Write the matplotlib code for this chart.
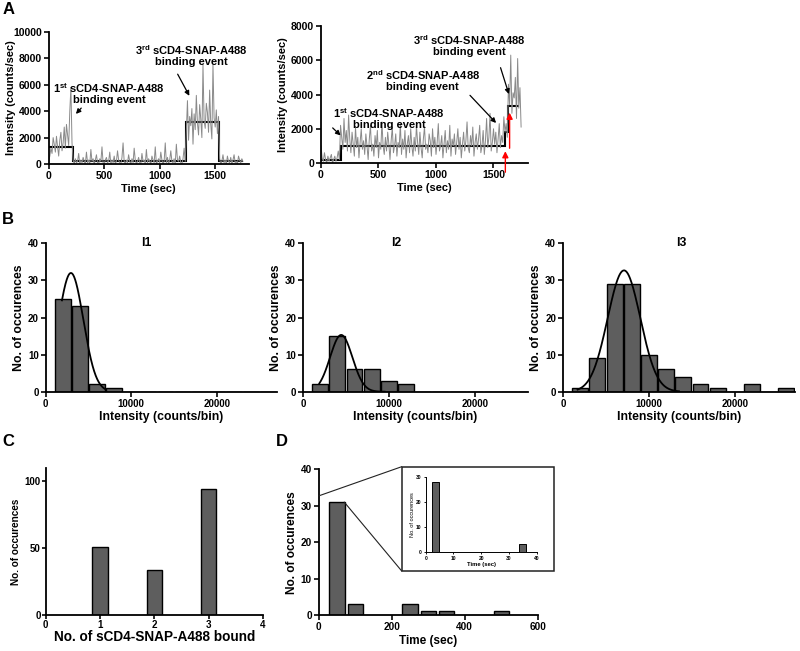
import numpy as np
import matplotlib.pyplot as plt
from matplotlib.patches import Rectangle, ConnectionPatch

plt.rcParams['font.family'] = ['Liberation Sans', 'DejaVu Sans']
plt.rcParams['font.weight'] = 'bold'
plt.rcParams['mathtext.fontset'] = 'custom'
plt.rcParams['mathtext.bf'] = 'Liberation Sans:bold'
plt.rcParams['mathtext.rm'] = 'Liberation Sans:bold'

# ---- panel A, left trace (10 s per point, 0..1750 s)
trace1 = [200, 600, 1200, 800, 2000, 1500, 900, 2100, 1300, 600, 1800, 2400, 1000, 1600, 2800, 1200,
          3000, 2200, 1400, 4000, 5800, 1600,
          300, 0, 400, 100, 200, 800, 0, 300, 100, 500,
          200, 0, 900, 100, 300, 0, 1100, 200, 400, 0,
          300, 700, 100, 0, 400, 200, 1300, 100, 0, 300,
          500, 100, 200, 900, 0, 300, 100, 600, 0, 200,
          1000, 300, 100, 0, 500, 1600, 200, 0, 300, 100,
          700, 200, 0, 400, 100, 1200, 300, 0, 200, 500,
          100, 0, 800, 200, 300, 0, 1100, 100, 400, 200,
          0, 600, 300, 100, 1300, 0, 200, 400, 100, 900,
          300, 0, 200, 1600, 100, 500, 0, 300, 1000, 200,
          100, 400, 0, 1500, 300, 200, 600, 100, 0, 400,
          1200, 200,
          2500, 4800, 1800, 3600, 2900, 4200, 1500, 3800, 2600, 5200,
          3100, 2200, 4500, 3400, 2000, 7500, 3300, 2700, 4600, 3900,
          2400, 5600, 3000, 1900, 7500, 3500, 2800, 4100, 2300, 3600,
          400, 0, 200, 700, 100, 300, 0, 600, 200, 100, 500, 0, 300, 700, 100, 200,
          0, 600, 300, 100, 400, 200]
steps1_t = [0, 215, 1240, 1535, 1750]
steps1_lvl = [1300, 230, 3200, 250]

# ---- panel A, right trace (10 s per point, 0..1740 s)
trace2 = [1000, 300, 100, 600, 200, 0, 400, 100, 300, 500, 0, 200, 400, 100, 300, 700, 200,
          2200, 1500, 800, 2600, 1200, 1900, 700, 2800, 1400, 600,
          1800, 1100, 400, 2100, 900, 1500, 300, 1200, 2000, 800,
          1300, 500, 1700, 1000, 200, 1400, 2200, 700, 1100, 400,
          1600, 900, 1900, 300, 1200, 800, 2400, 1000, 500, 1500,
          700, 1800, 1100, 200, 1300, 2100, 600, 1000, 1700, 400,
          1200, 900, 2300, 500, 1400, 800, 1900, 300, 1100, 1600,
          600, 2000, 1000, 400, 1500, 700, 2200, 1200, 500, 1800,
          900, 300, 1400, 2100, 800, 1100, 600, 1700, 1300, 400,
          2000, 900, 1500, 500, 1200, 2300, 700, 1000, 1600, 300,
          1100, 1900, 600, 1300, 800, 2200, 400, 1400, 1000, 1700,
          500, 1200, 2000, 800, 1500, 300, 1100, 1800, 700, 1300,
          2400, 900, 600, 1600, 1000, 2100, 400, 1200, 1700, 800,
          1400, 2200, 600, 1000, 1900, 500, 1300, 2600, 900, 1500,
          2900, 700, 1200, 2000, 1100, 1800, 600, 1400, 2300, 900, 1600, 1200, 2700,
          1800, 2300, 1500,
          4600, 3400, 6300, 2900, 4100, 3800, 5000, 2600, 6100, 3200, 4400, 2100]
steps2_t = [0, 170, 1597, 1630, 1720]
steps2_lvl = [200, 1000, 1800, 3350]

# ---- panel B histograms (bin centres, counts, gaussian fit: amp, mean, sd, from, to)
bins_b = [2000, 4000, 6000, 8000, 10000, 12000, 14000, 16000, 18000, 20000, 22000, 24000, 26000]
i1_counts = [25, 23, 2, 1, 0, 0, 0, 0, 0, 0, 0, 0, 0]
i2_counts = [2, 15, 6, 6, 3, 2, 0, 0, 0, 0, 0, 0, 0]
i3_counts = [1, 9, 29, 29, 10, 6, 4, 2, 1, 0, 2, 0, 1]
i1_fit = [32, 2950, 1450, 1900, 7000]
i2_fit = [15.3, 4450, 1300, 1900, 9500]
i3_fit = [32.7, 7100, 1900, 1700, 13500]

# ---- panel C
n_bound = [1, 2, 3]
n_bound_counts = [51, 34, 94]

# ---- panel D
dwell_t = [50, 100, 250, 300, 350, 500]
dwell_counts = [31, 3, 3, 1, 1, 1]
inset_t = [3.5, 35]
inset_counts = [28, 3]

W, H = 800, 651
BAR = '#5e5e5e'
GREY = '#8a8a8a'


def px_axes(fig, x0, y_top, x1, y_bot):
    return fig.add_axes([x0 / W, 1 - y_bot / H, (x1 - x0) / W, (y_bot - y_top) / H])


def style(ax, fs=7.5, lw=1.3, tl=3.5, pad=1.5):
    for s in ['top', 'right']:
        ax.spines[s].set_visible(False)
    for s in ['left', 'bottom']:
        ax.spines[s].set_linewidth(lw)
    ax.tick_params(direction='out', length=tl, width=lw * 0.9, labelsize=fs, pad=pad)
    for lab in ax.get_xticklabels() + ax.get_yticklabels():
        lab.set_fontweight('bold')


fig = plt.figure(figsize=(8, 6.51), dpi=100)

# ===================== A left
ax = px_axes(fig, 48.7, 32, 248.5, 164)
t1 = np.arange(len(trace1)) * 10
ax.plot(t1, trace1, color=GREY, lw=0.7)
ax.stairs(steps1_lvl, steps1_t, color='black', lw=1.5, baseline=None)
ax.set_xlim(0, 1800)
ax.set_ylim(0, 10000)
ax.set_xticks([0, 500, 1000, 1500])
ax.set_yticks(range(0, 10001, 2000))
ax.set_xlabel('Time (sec)', fontsize=8, fontweight='bold', labelpad=2)
ax.set_ylabel('Intensity (counts/sec)', fontsize=8, fontweight='bold')
ax.yaxis.set_label_coords(-0.165, 0.5)
style(ax)
ax.text(545, 5340, '1$^{\\mathbf{st}}$ sCD4-SNAP-A488\nbinding event', ha='center', va='center',
        fontsize=8, fontweight='bold', multialignment='center', linespacing=1.0)
ax.annotate('', xy=(228, 3640), xytext=(310, 4390),
            arrowprops=dict(arrowstyle='-|>', color='black', lw=0.9, mutation_scale=7))
ax.text(1285, 8280, '3$^{\\mathbf{rd}}$ sCD4-SNAP-A488\nbinding event', ha='center', va='center',
        fontsize=8, fontweight='bold', multialignment='center', linespacing=1.0, clip_on=False)
ax.annotate('', xy=(1279, 4980), xytext=(1150, 6990),
            arrowprops=dict(arrowstyle='-|>', color='black', lw=0.9, mutation_scale=7))

# ===================== A right
ax = px_axes(fig, 321, 26, 528, 163)
t2 = np.arange(len(trace2)) * 10
ax.plot(t2, trace2, color=GREY, lw=0.7)
ax.stairs(steps2_lvl, steps2_t, color='black', lw=1.5, baseline=None)
ax.set_xlim(0, 1800)
ax.set_ylim(0, 8000)
ax.set_xticks([0, 500, 1000, 1500])
ax.set_yticks(range(0, 8001, 2000))
ax.set_xlabel('Time (sec)', fontsize=8, fontweight='bold', labelpad=2)
ax.set_ylabel('Intensity (counts/sec)', fontsize=8, fontweight='bold')
ax.yaxis.set_label_coords(-0.158, 0.5)
style(ax)
ann = dict(ha='center', va='center', fontsize=8, fontweight='bold', multialignment='center',
           linespacing=1.0, clip_on=False)
ax.text(1292, 6890, '3$^{\\mathbf{rd}}$ sCD4-SNAP-A488\nbinding event', **ann)
ax.text(885, 4820, '2$^{\\mathbf{nd}}$ sCD4-SNAP-A488\nbinding event', **ann)
ax.text(592, 2630, '1$^{\\mathbf{st}}$ sCD4-SNAP-A488\nbinding event', **ann)
for xy, xyt in [((1641, 3870), (1554, 5720)), ((1539, 2220), (1279, 4070)), ((188, 1500), (84, 2160))]:
    ax.annotate('', xy=xy, xytext=xyt,
                arrowprops=dict(arrowstyle='-|>', color='black', lw=0.9, mutation_scale=7))
ax.annotate('', xy=(1603, 850), xytext=(1603, -700), annotation_clip=False,
            arrowprops=dict(arrowstyle='-|>', color='red', lw=1.0, mutation_scale=9))
ax.annotate('', xy=(1640, 3100), xytext=(1640, 700), annotation_clip=False,
            arrowprops=dict(arrowstyle='-|>', color='red', lw=1.0, mutation_scale=9))

# ===================== B
b_specs = [(45.7, 276.6, 27000, i1_counts, i1_fit, 'I1', 11800),
           (303, 528, 26200, i2_counts, i2_fit, 'I2', 10900),
           (563, 795, 27000, i3_counts, i3_fit, 'I3', 13800)]
for x0, x1, xmax, counts, fit, title, tx in b_specs:
    ax = px_axes(fig, x0, 243.3, x1, 391.7)
    ax.bar(bins_b, counts, width=1850, color=BAR, edgecolor='black', lw=1.0)
    amp, mu, sd, lo, hi = fit
    xs = np.linspace(lo, hi, 200)
    ax.plot(xs, amp * np.exp(-(xs - mu) ** 2 / (2 * sd ** 2)), color='black', lw=1.3)
    ax.set_xlim(0, xmax)
    ax.set_ylim(0, 40)
    ax.set_xticks([0, 10000, 20000])
    ax.set_yticks([0, 10, 20, 30, 40])
    ax.set_xlabel('Intensity (counts/bin)', fontsize=8.8, fontweight='bold', labelpad=2)
    ax.set_ylabel('No. of occurences', fontsize=8.8, fontweight='bold', labelpad=2)
    style(ax, fs=7)
    ax.text(tx, 40, title, ha='center', va='center', fontsize=8.8, fontweight='bold')

# ===================== C
ax = px_axes(fig, 45.7, 468, 263, 615)
ax.bar(n_bound, n_bound_counts, width=0.28, color=BAR, edgecolor='black', lw=1.0)
ax.set_xlim(0, 4)
ax.set_ylim(0, 110)
ax.set_xticks([0, 1, 2, 3, 4])
ax.set_yticks([0, 50, 100])
ax.set_xlabel('No. of sCD4-SNAP-A488 bound', fontsize=9.8, fontweight='bold')
ax.xaxis.set_label_coords(0.5, -0.105)
ax.set_ylabel('No. of occurences', fontsize=7.2, fontweight='bold', labelpad=3)
style(ax, fs=7, tl=3, pad=0.5)

# ===================== D
ax_d = px_axes(fig, 318.7, 469.3, 537.7, 615)
ax_d.bar(dwell_t, dwell_counts, width=42, color=BAR, edgecolor='black', lw=1.0)
ax_d.set_xlim(0, 600)
ax_d.set_ylim(0, 40)
ax_d.set_xticks([0, 200, 400, 600])
ax_d.set_yticks([0, 10, 20, 30, 40])
ax_d.set_xlabel('Time (sec)', fontsize=8.5, fontweight='bold', labelpad=2)
ax_d.set_ylabel('No. of occurences', fontsize=8.6, fontweight='bold', labelpad=2)
style(ax_d, fs=7.2)

box = Rectangle((401.7 / W, 1 - 571 / H), 152.3 / W, 104.3 / H, transform=fig.transFigure,
                facecolor='white', edgecolor='#222222', lw=1.1, zorder=2)
fig.add_artist(box)
for xyA, xyB in [((0, 32.7), (401.7 / W, 1 - 466.7 / H)), ((70, 31), (401.7 / W, 1 - 571 / H))]:
    con = ConnectionPatch(xyA=xyA, coordsA=ax_d.transData, xyB=xyB, coordsB=fig.transFigure,
                          color='#222222', lw=0.8, zorder=2)
    fig.add_artist(con)

ax_in = px_axes(fig, 425.7, 477.3, 536.7, 551.7)
ax_in.set_zorder(3)
ax_in.bar(inset_t, inset_counts, width=2.5, color=BAR, edgecolor='black', lw=0.7)
ax_in.set_xlim(0, 40)
ax_in.set_ylim(0, 30)
ax_in.set_xticks([0, 10, 20, 30, 40])
ax_in.set_yticks([0, 10, 20, 30])
ax_in.set_xlabel('Time (sec)', fontsize=4.2, fontweight='bold', labelpad=1)
ax_in.set_ylabel('No. of occurences', fontsize=4, labelpad=1)
style(ax_in, fs=3.5, lw=0.7, tl=1.5)

# panel letters
for letter, (x, y) in {'A': (9, 10), 'B': (8, 220), 'C': (8, 442), 'D': (282, 442)}.items():
    fig.text(x / W, 1 - y / H, letter, fontsize=12, fontweight='bold', ha='center', va='center')

fig.savefig('out.png', dpi=100)
